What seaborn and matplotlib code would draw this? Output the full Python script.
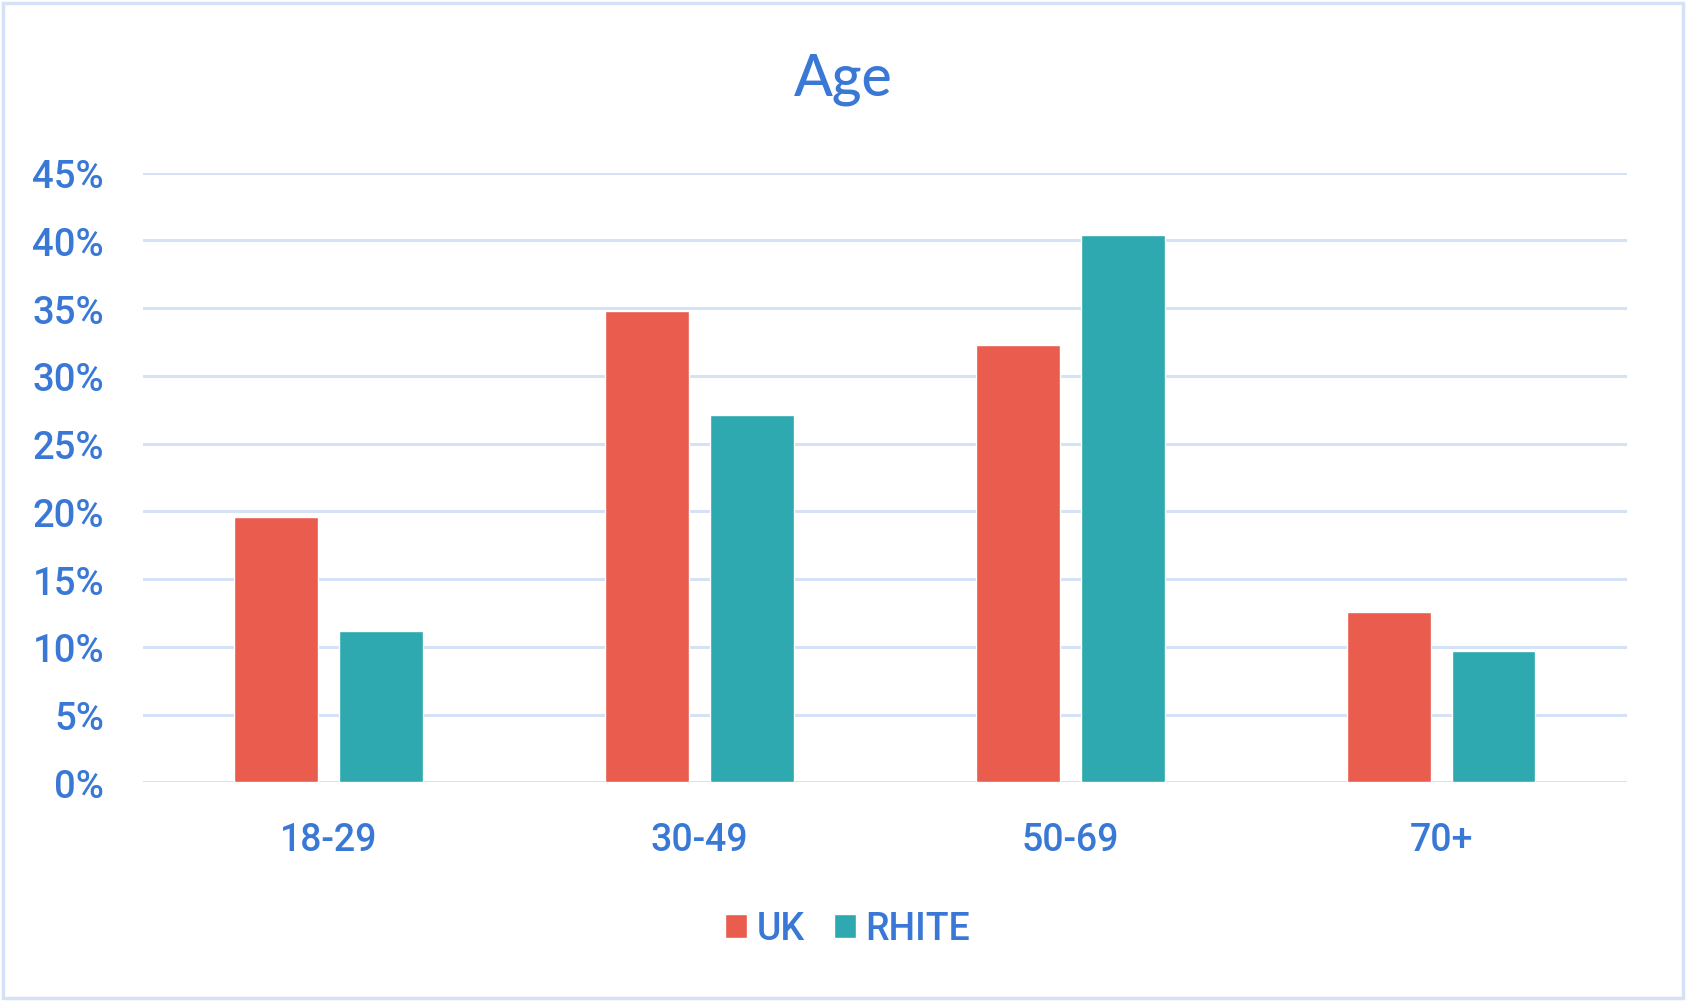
import pandas as pd
import numpy as np
import matplotlib.pyplot as plt
from matplotlib.patches import Rectangle
from matplotlib.ticker import PercentFormatter
import seaborn as sns

# data
ages = ['18-29', '30-49', '50-69', '70+']
uk = [19.6, 34.8, 32.3, 12.6]
rhite = [11.2, 27.1, 40.4, 9.7]

df = pd.DataFrame({
    'age': ages * 2,
    'share': [v / 100 for v in uk + rhite],
    'group': ['UK'] * 4 + ['RHITE'] * 4,
})

BLUE = '#3A78D6'
GRID = '#D5E1F4'

sns.set_style('white')
plt.rcParams['font.family'] = ['Roboto', 'DejaVu Sans']
plt.rcParams['font.weight'] = 'medium'

fig = plt.figure(figsize=(16.86, 10.03), dpi=100)
ax = fig.add_axes([0.0848, 0.219, 0.880, 0.608])

sns.barplot(data=df, x='age', y='share', hue='group',
            palette={'UK': '#E95C4E', 'RHITE': '#2EA9AF'},
            width=0.565, gap=0.2, saturation=1, ax=ax)

ax.set_ylim(0, 0.45)
ax.set_xlim(-0.5, 3.5)
ax.set_yticks(np.arange(0, 0.451, 0.05))
ax.yaxis.set_major_formatter(PercentFormatter(1.0, decimals=0))
ax.grid(axis='y', color=GRID, linewidth=2.2)
ax.set_axisbelow(True)
for s in ax.spines.values():
    s.set_visible(False)
ax.tick_params(axis='both', length=0, labelcolor=BLUE)
ax.tick_params(axis='y', pad=28, labelsize=27.5)
ax.tick_params(axis='x', pad=28, labelsize=27)
ax.set_xlabel('')
ax.set_ylabel('')

fig.text(0.5, 0.921, 'Age', ha='center', va='center', fontsize=41,
         color=BLUE, family=['Lato', 'DejaVu Sans'])

leg = ax.legend(loc='center', bbox_to_anchor=(0.475, -0.24), ncol=2, frameon=False,
                fontsize=27, handlelength=0.58, handleheight=0.58,
                handletextpad=0.25, columnspacing=0.8)
for t in leg.get_texts():
    t.set_color(BLUE)

fig.patches.append(Rectangle((0.002, 0.004), 0.996, 0.992, transform=fig.transFigure,
                             fill=False, edgecolor=GRID, linewidth=2.5))

fig.savefig('out.png', dpi=100, facecolor='white')
